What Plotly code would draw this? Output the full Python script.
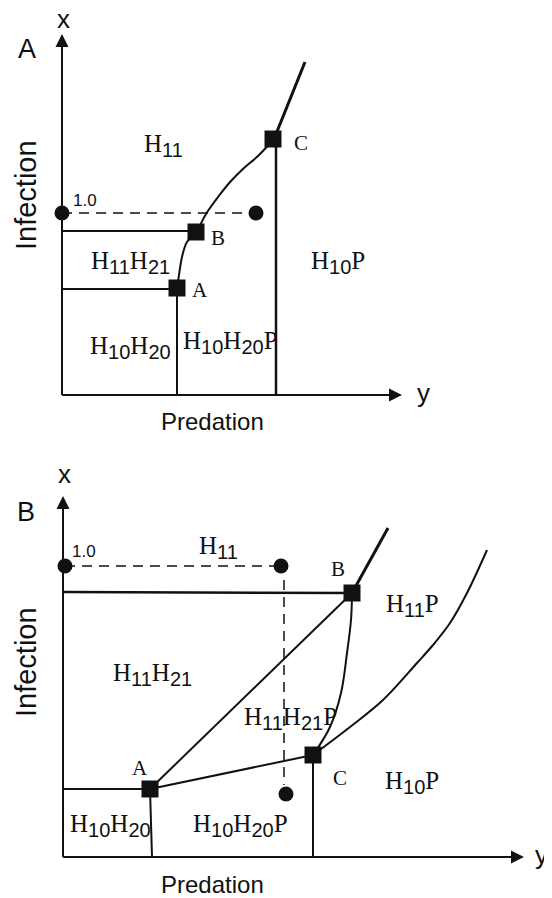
import plotly.graph_objects as go

W, H = 552, 898
OFF = 8  # page body margin compensation
SERIF = "Liberation Serif"
SANS = "Liberation Sans"

# ---------------- Panel A (schematic coordinates, page pixel units) ----------------
A_yaxis_x = [62, 62]; A_yaxis_y = [395, 36]
A_xaxis_x = [62, 400]; A_xaxis_y = [395, 395]
A_curve_AB_x = [177, 179, 182, 187, 197]
A_curve_AB_y = [288, 275, 257, 242, 232]
A_curve_BC_x = [197, 206, 218, 231, 244, 258, 274]
A_curve_BC_y = [232, 214, 197, 181, 168, 156, 139]
A_beyondC_x = [274, 305]; A_beyondC_y = [139, 62]
A_hB_x = [62, 196]; A_hB_y = [231, 231]
A_hA_x = [62, 177]; A_hA_y = [289, 289]
A_vA_x = [177, 177]; A_vA_y = [288, 395]
A_vC_x = [276, 276]; A_vC_y = [139, 395]
A_dash_x = [62, 256]; A_dash_y = [213, 213]
A_dots_x = [62, 256]; A_dots_y = [213, 213]
A_squares_x = [177, 196, 273]; A_squares_y = [288, 232, 139]
A_sq_labels = ["A", "B", "C"]
A_sq_label_x = [200, 218, 301]; A_sq_label_y = [290, 238, 143]
A_regions = ["H<sub>11</sub>", "H<sub>11</sub>H<sub>21</sub>", "H<sub>10</sub>H<sub>20</sub>",
             "H<sub>10</sub>H<sub>20</sub>P", "H<sub>10</sub>P"]
A_region_x = [163, 130, 130, 230, 338]
A_region_y = [145, 262, 347, 342, 262]

# ---------------- Panel B ----------------
B_yaxis_x = [63, 63]; B_yaxis_y = [857, 498]
B_xaxis_x = [63, 522]; B_xaxis_y = [857, 857]
B_hB_x = [63, 352]; B_hB_y = [592, 593]
B_beyondB_x = [352, 388]; B_beyondB_y = [593, 528]
B_lineAB_x = [150, 352]; B_lineAB_y = [789, 593]
B_curve_BC_x = [352, 351, 347, 341, 330, 313]
B_curve_BC_y = [593, 620, 653, 693, 727, 755]
B_curve_C_x = [313, 350, 383, 417, 433, 450, 467, 487]
B_curve_C_y = [755, 727, 700, 663, 645, 623, 593, 550]
B_lineAC_x = [150, 313]; B_lineAC_y = [789, 755]
B_hA_x = [63, 150]; B_hA_y = [789, 789]
B_vA_x = [150, 152]; B_vA_y = [789, 857]
B_vC_x = [313, 313]; B_vC_y = [755, 857]
B_dashH_x = [65, 281]; B_dashH_y = [566, 566]
B_dashV_x = [284, 284]; B_dashV_y = [580, 785]
B_dots_x = [65, 281, 286]; B_dots_y = [566, 566, 794]
B_squares_x = [150, 352, 313]; B_squares_y = [789, 593, 755]
B_sq_labels = ["A", "B", "C"]
B_sq_label_x = [140, 338, 340]; B_sq_label_y = [768, 569, 778]
B_regions = ["H<sub>11</sub>", "H<sub>11</sub>P", "H<sub>11</sub>H<sub>21</sub>",
             "H<sub>11</sub>H<sub>21</sub>P", "H<sub>10</sub>H<sub>20</sub>P",
             "H<sub>10</sub>H<sub>20</sub>", "H<sub>10</sub>P"]
B_region_x = [218, 412, 152, 290, 240, 110, 412]
B_region_y = [547, 605, 674, 718, 825, 825, 782]

fig = go.Figure()

def line(xs, ys, width=2, dash="solid", shape="linear"):
    fig.add_trace(go.Scatter(x=xs, y=ys, mode="lines", hoverinfo="skip",
                             line=dict(color="#111", width=width, dash=dash, shape=shape)))

def pts(xs, ys, symbol, size):
    fig.add_trace(go.Scatter(x=xs, y=ys, mode="markers", hoverinfo="skip",
                             marker=dict(symbol=symbol, size=size, color="#111")))

def subfmt(s):
    return s.replace("<sub>", "<sub><span style='font-family:%s;font-size:20px'>" % SANS).replace("</sub>", "</span></sub>")

# Panel A
line(A_yaxis_x, A_yaxis_y, 2)
line(A_xaxis_x, A_xaxis_y, 2)
line(A_curve_AB_x, A_curve_AB_y, 2, shape="spline")
line(A_curve_BC_x, A_curve_BC_y, 2, shape="spline")
line(A_beyondC_x, A_beyondC_y, 3)
line(A_hB_x, A_hB_y, 2)
line(A_hA_x, A_hA_y, 2)
line(A_vA_x, A_vA_y, 2)
line(A_vC_x, A_vC_y, 2.5)
line(A_dash_x, A_dash_y, 1.5, dash="10px,7px")
pts(A_dots_x, A_dots_y, "circle", 15)
pts(A_squares_x, A_squares_y, "square", 17)

# Panel B
line(B_yaxis_x, B_yaxis_y, 2)
line(B_xaxis_x, B_xaxis_y, 2)
line(B_hB_x, B_hB_y, 2.5)
line(B_beyondB_x, B_beyondB_y, 3)
line(B_lineAB_x, B_lineAB_y, 2)
line(B_curve_BC_x, B_curve_BC_y, 2, shape="spline")
line(B_curve_C_x, B_curve_C_y, 2, shape="spline")
line(B_lineAC_x, B_lineAC_y, 2)
line(B_hA_x, B_hA_y, 2)
line(B_vA_x, B_vA_y, 2)
line(B_vC_x, B_vC_y, 2)
line(B_dashH_x, B_dashH_y, 1.5, dash="10px,7px")
line(B_dashV_x, B_dashV_y, 1.5, dash="10px,7px")
pts(B_dots_x, B_dots_y, "circle", 15)
pts(B_squares_x, B_squares_y, "square", 17)

ann = []
# Arrowheads on axes
for (x0, y0, x1, y1) in [(A_yaxis_x[0], A_yaxis_y[0], A_yaxis_x[1], A_yaxis_y[1] - 2),
                         (A_xaxis_x[0], A_xaxis_y[0], A_xaxis_x[1] + 2, A_xaxis_y[1]),
                         (B_yaxis_x[0], B_yaxis_y[0], B_yaxis_x[1], B_yaxis_y[1] - 2),
                         (B_xaxis_x[0], B_xaxis_y[0], B_xaxis_x[1] + 2, B_xaxis_y[1])]:
    ann.append(dict(x=x1, y=y1, ax=x0, ay=y0, xref="x", yref="y", axref="x", ayref="y",
                    showarrow=True, arrowhead=2, arrowsize=1.3, arrowwidth=2,
                    arrowcolor="#111", text=""))

def txt(s, x, y, size, family, angle=0, height=None):
    d = dict(x=x, y=y, text=s, showarrow=False, xref="x", yref="y",
             textangle=angle, font=dict(size=size, family=family, color="#111"))
    if height:
        d["height"] = height
    ann.append(d)

# Panel A text
txt("A", 27, 49, 27, SANS)
txt("x", 63, 19, 26, SANS, height=24)
txt("y", 423, 393, 26, SANS)
txt("Infection", 26, 195, 29, SANS, -90)
txt("Predation", 212, 421, 24, SANS)
txt("1.0", 85, 200, 17, SANS)
for s, x, y in zip(A_sq_labels, A_sq_label_x, A_sq_label_y):
    txt(s, x, y, 21, SERIF)
for s, x, y in zip(A_regions, A_region_x, A_region_y):
    txt(subfmt(s), x, y, 25, SERIF)

# Panel B text
txt("B", 26, 512, 27, SANS)
txt("x", 64, 474, 26, SANS, height=24)
txt("y", 541, 855, 26, SANS)
txt("Infection", 26, 662, 29, SANS, -90)
txt("Predation", 212, 884, 24, SANS)
txt("1.0", 84, 551, 17, SANS)
for s, x, y in zip(B_sq_labels, B_sq_label_x, B_sq_label_y):
    txt(s, x, y, 21, SERIF)
for s, x, y in zip(B_regions, B_region_x, B_region_y):
    txt(subfmt(s), x, y, 25, SERIF)

fig.update_layout(
    width=W, height=H, margin=dict(l=0, r=0, t=0, b=0),
    paper_bgcolor="white", plot_bgcolor="white", showlegend=False,
    xaxis=dict(range=[OFF, W + OFF], visible=False, fixedrange=True),
    yaxis=dict(range=[H + OFF, OFF], visible=False, fixedrange=True),
    annotations=ann,
)
fig.write_html("out.html")
